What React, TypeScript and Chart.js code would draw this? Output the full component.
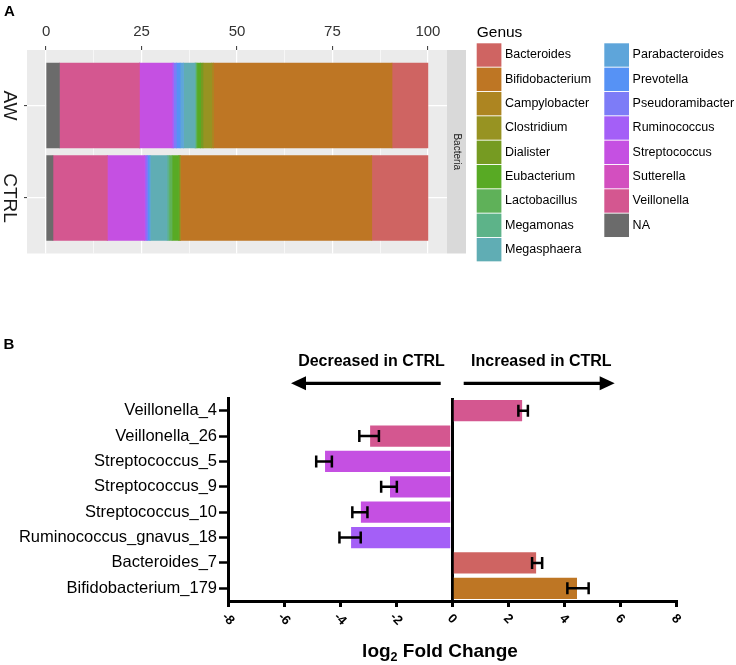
import React, { useEffect, useRef } from 'react';
import { Chart, registerables } from 'chart.js';

Chart.register(...registerables);

const FONT = "'Liberation Sans', Arial, Helvetica, sans-serif";
Chart.defaults.font.family = FONT;

// ---------- Panel A data ----------
const genera = [
  'Bacteroides', 'Bifidobacterium', 'Campylobacter', 'Clostridium', 'Dialister',
  'Eubacterium', 'Lactobacillus', 'Megamonas', 'Megasphaera', 'Parabacteroides',
  'Prevotella', 'Pseudoramibacter', 'Ruminococcus', 'Streptococcus', 'Sutterella',
  'Veillonella', 'NA',
];
const genusColors = [
  '#CF6462', '#BE7624', '#AD8521', '#979322', '#769B22',
  '#58AA24', '#5FB159', '#5DB389', '#60ADB4', '#5EA5DA',
  '#5692F5', '#7D7CF7', '#A45FF7', '#C550E2', '#D34FBF',
  '#D45790', '#6B6B6B',
];
const groups = ['AW', 'CTRL'];
const awAbundance = [9.4, 46.7, 0.5, 2.3, 0.6, 1.0, 0.3, 0.2, 3.0, 0.9, 1.0, 0.7, 0.4, 8.5, 0.1, 20.9, 3.5];
const ctrlAbundance = [14.7, 50.1, 0.1, 0.1, 0.3, 1.7, 0.8, 0.5, 4.4, 0.3, 0.4, 0.4, 0.4, 9.7, 0.1, 14.2, 1.8];
const abundanceTicks = [0, 25, 50, 75, 100];
const stripLabel = 'Bacteria';

// ---------- Panel B data ----------
const features = [
  'Veillonella_4', 'Veillonella_26', 'Streptococcus_5', 'Streptococcus_9',
  'Streptococcus_10', 'Ruminococcus_gnavus_18', 'Bacteroides_7', 'Bifidobacterium_179',
];
const log2FC = [2.54, -2.96, -4.57, -2.25, -3.29, -3.64, 3.04, 4.5];
const fcError = [0.17, 0.35, 0.28, 0.28, 0.27, 0.38, 0.18, 0.38];
const featureColors = ['#D45790', '#D45790', '#C550E2', '#C550E2', '#C550E2', '#A45FF7', '#CF6462', '#BE7624'];
const fcMin = -8;
const fcMax = 8;
const fcStep = 2;

const minorTicks = abundanceTicks.slice(0, -1).map((v, i) => (v + abundanceTicks[i + 1]) / 2);
const allATicks = [...abundanceTicks, ...minorTicks].sort((a, b) => a - b);
const isMajor = (v: number) => abundanceTicks.includes(v);

const panelAPlugin = {
  id: 'panelA',
  beforeDraw(chart: any) {
    const { ctx, chartArea: a } = chart;
    ctx.save();
    ctx.fillStyle = '#EBEBEB';
    ctx.fillRect(a.left, a.top, a.right - a.left, a.bottom - a.top);
    ctx.restore();
  },
  afterDraw(chart: any) {
    const { ctx, chartArea: a } = chart;
    const y = chart.scales.y;
    ctx.save();
    // panel letter
    ctx.fillStyle = '#000';
    ctx.font = `bold 15px ${FONT}`;
    ctx.textAlign = 'left';
    ctx.textBaseline = 'middle';
    ctx.fillText('A', 4, 12);

    // group labels rotated clockwise
    ctx.font = `19px ${FONT}`;
    ctx.fillStyle = '#1A1A1A';
    groups.forEach((g, i) => {
      const py = y.getPixelForValue(i + 1);
      ctx.save();
      ctx.translate(9, py);
      ctx.rotate(Math.PI / 2);
      ctx.textAlign = 'center';
      ctx.textBaseline = 'middle';
      ctx.fillText(g, 0, 0);
      ctx.restore();
    });

    // facet strip
    ctx.fillStyle = '#D9D9D9';
    ctx.fillRect(a.right, a.top, 19, a.bottom - a.top);
    ctx.save();
    ctx.translate(a.right + 9.5, (a.top + a.bottom) / 2);
    ctx.rotate(Math.PI / 2);
    ctx.fillStyle = '#1A1A1A';
    ctx.font = `10px ${FONT}`;
    ctx.textAlign = 'center';
    ctx.textBaseline = 'middle';
    ctx.fillText(stripLabel, 0, 0);
    ctx.restore();

    // legend
    ctx.fillStyle = '#000';
    ctx.font = `15.5px ${FONT}`;
    ctx.textAlign = 'left';
    ctx.textBaseline = 'middle';
    ctx.fillText('Genus', 476.7, 32.5);
    ctx.font = `12.5px ${FONT}`;
    genera.forEach((g, i) => {
      const col = i < 9 ? 0 : 1;
      const row = col === 0 ? i : i - 9;
      const kx = col === 0 ? 476.7 : 604.3;
      const cy = 55 + row * 24.33;
      ctx.fillStyle = genusColors[i];
      ctx.fillRect(kx, cy - 11.7, 24.7, 23.4);
      ctx.fillStyle = '#000';
      ctx.fillText(g, kx + 28.3, cy);
    });
    ctx.restore();
  },
};

const panelBPlugin = {
  id: 'panelB',
  afterDatasetsDraw(chart: any) {
    const { ctx } = chart;
    const x = chart.scales.x;
    const y = chart.scales.y;
    ctx.save();
    ctx.strokeStyle = '#000';
    ctx.lineWidth = 2.5;
    log2FC.forEach((v, i) => {
      const py = y.getPixelForValue(i);
      const x1 = x.getPixelForValue(v - fcError[i]);
      const x2 = x.getPixelForValue(v + fcError[i]);
      ctx.beginPath();
      ctx.moveTo(x1, py);
      ctx.lineTo(x2, py);
      ctx.moveTo(x1, py - 6);
      ctx.lineTo(x1, py + 6);
      ctx.moveTo(x2, py - 6);
      ctx.lineTo(x2, py + 6);
      ctx.stroke();
    });
    ctx.restore();
  },
  afterDraw(chart: any) {
    const { ctx } = chart;
    const x = chart.scales.x;
    ctx.save();
    ctx.fillStyle = '#000';
    ctx.strokeStyle = '#000';

    // panel letter
    ctx.font = `bold 15px ${FONT}`;
    ctx.textAlign = 'left';
    ctx.textBaseline = 'middle';
    ctx.fillText('B', 3.5, 345);

    // direction headers
    ctx.font = `bold 16px ${FONT}`;
    ctx.textAlign = 'center';
    ctx.fillText('Decreased in CTRL', 371.5, 362);
    ctx.fillText('Increased in CTRL', 541.3, 362);

    // arrows
    const ay = 383.3;
    ctx.lineWidth = 3.3;
    ctx.beginPath();
    ctx.moveTo(304, ay);
    ctx.lineTo(440.7, ay);
    ctx.moveTo(463.7, ay);
    ctx.lineTo(602, ay);
    ctx.stroke();
    ctx.beginPath();
    ctx.moveTo(291, ay);
    ctx.lineTo(306, ay - 7);
    ctx.lineTo(306, ay + 7);
    ctx.closePath();
    ctx.fill();
    ctx.beginPath();
    ctx.moveTo(614.7, ay);
    ctx.lineTo(599.7, ay - 7);
    ctx.lineTo(599.7, ay + 7);
    ctx.closePath();
    ctx.fill();

    // rotated x tick labels
    ctx.font = `bold 13px ${FONT}`;
    x.ticks.forEach((t: any) => {
      const px = x.getPixelForValue(t.value);
      ctx.save();
      ctx.translate(px, 619);
      ctx.rotate(Math.PI / 4);
      ctx.textAlign = 'center';
      ctx.textBaseline = 'middle';
      ctx.fillText(String(t.value), 0, 0);
      ctx.restore();
    });

    // x title with subscript
    const big = `bold 19px ${FONT}`;
    const small = `bold 12.5px ${FONT}`;
    ctx.font = big;
    const w1 = ctx.measureText('log').width;
    const w3 = ctx.measureText(' Fold Change').width;
    ctx.font = small;
    const w2 = ctx.measureText('2').width;
    let sx = 440 - (w1 + w2 + w3) / 2;
    ctx.textAlign = 'left';
    ctx.textBaseline = 'alphabetic';
    ctx.font = big;
    ctx.fillText('log', sx, 656.7);
    sx += w1;
    ctx.font = small;
    ctx.fillText('2', sx, 660.7);
    sx += w2;
    ctx.font = big;
    ctx.fillText(' Fold Change', sx, 656.7);
    ctx.restore();
  },
};

export default function App() {
  const refA = useRef<HTMLCanvasElement>(null);
  const refB = useRef<HTMLCanvasElement>(null);

  useEffect(() => {
    const datasetsA = genera
      .map((_, i) => i)
      .reverse()
      .map((i) => ({
        label: genera[i],
        data: [
          { x: awAbundance[i], y: 1 },
          { x: ctrlAbundance[i], y: 2 },
        ],
        backgroundColor: genusColors[i],
        borderWidth: 0,
        stack: 'genus',
        barThickness: 85,
      }));

    const chartA = new Chart(refA.current as HTMLCanvasElement, {
      type: 'bar',
      data: { datasets: datasetsA as any },
      options: {
        indexAxis: 'y',
        animation: false,
        responsive: false,
        devicePixelRatio: 1,
        events: [],
        layout: { padding: { left: 0, top: 0, right: 289, bottom: 411.5 } },
        plugins: { legend: { display: false }, tooltip: { enabled: false } },
        scales: {
          x: {
            type: 'linear',
            position: 'top',
            stacked: true,
            min: -5,
            max: 105,
            afterBuildTicks: (s: any) => {
              s.ticks = allATicks.map((v) => ({ value: v }));
            },
            afterFit: (s: any) => {
              s.height = 50;
            },
            ticks: {
              autoSkip: false,
              maxRotation: 0,
              padding: 5,
              color: '#333333',
              font: { size: 15, family: FONT },
              callback: (v: any) => (isMajor(Number(v)) ? String(v) : ''),
            },
            grid: {
              color: '#FFFFFF',
              lineWidth: (c: any) => (c.tick && isMajor(c.tick.value) ? 1.2 : 0.6),
              tickColor: (c: any) => (c.tick && isMajor(c.tick.value) ? '#333333' : 'rgba(0,0,0,0)'),
              tickWidth: 1,
              tickLength: 4,
            },
            border: { display: false },
          },
          y: {
            type: 'linear',
            reverse: true,
            offset: false,
            min: 0.4,
            max: 2.6,
            afterBuildTicks: (s: any) => {
              s.ticks = groups.map((_, i) => ({ value: i + 1 }));
            },
            afterFit: (s: any) => {
              s.width = 27;
            },
            ticks: { display: false },
            grid: { offset: false, color: '#FFFFFF', lineWidth: 1.2, tickColor: '#333333', tickLength: 3, tickWidth: 1 },
            border: { display: false },
          },
        },
      } as any,
      plugins: [panelAPlugin],
    });

    const chartB = new Chart(refB.current as HTMLCanvasElement, {
      type: 'bar',
      data: {
        labels: features,
        datasets: [
          {
            data: log2FC,
            backgroundColor: featureColors,
            borderColor: 'rgba(255,255,255,0.45)',
            borderWidth: 1,
            barPercentage: 0.92,
            categoryPercentage: 1,
          },
        ],
      },
      options: {
        indexAxis: 'y',
        animation: false,
        responsive: false,
        devicePixelRatio: 1,
        events: [],
        layout: { padding: { left: 0, top: 398, right: 60, bottom: 54 } },
        plugins: { legend: { display: false }, tooltip: { enabled: false } },
        scales: {
          x: {
            type: 'linear',
            min: fcMin,
            max: fcMax,
            z: 1,
            afterFit: (s: any) => {
              s.height = 10;
            },
            ticks: { stepSize: fcStep, display: false },
            grid: {
              drawOnChartArea: true,
              color: (c: any) => (c.tick && c.tick.value === 0 ? '#000000' : 'rgba(0,0,0,0)'),
              lineWidth: 3,
              tickColor: '#000000',
              tickWidth: 3,
              tickLength: 6,
            },
            border: { display: true, color: '#000000', width: 3 },
          },
          y: {
            afterFit: (s: any) => {
              s.width = 228;
            },
            ticks: { color: '#000000', font: { size: 16.5, family: FONT }, padding: 2 },
            grid: { drawOnChartArea: false, offset: false, tickColor: '#000000', tickWidth: 2.5, tickLength: 9 },
            border: { display: true, color: '#000000', width: 3 },
          },
        },
      } as any,
      plugins: [panelBPlugin],
    });

    return () => {
      chartA.destroy();
      chartB.destroy();
    };
  }, []);

  const canvasStyle: React.CSSProperties = { position: 'absolute', left: 0, top: 0, width: 736, height: 665 };
  return (
    <div style={{ position: 'absolute', left: 0, top: 0, width: 736, height: 665, background: '#FFFFFF' }}>
      <canvas ref={refB} width={736} height={665} style={canvasStyle} />
      <canvas ref={refA} width={736} height={665} style={canvasStyle} />
    </div>
  );
}
